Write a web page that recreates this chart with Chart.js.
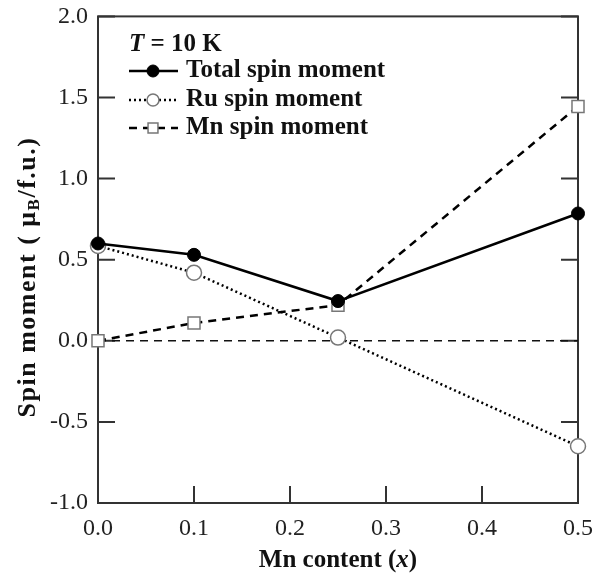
<!DOCTYPE html>
<html>
<head>
<meta charset="utf-8">
<script src="https://cdn.jsdelivr.net/npm/chart.js@4"></script>
<style>
  html, body { margin: 0; padding: 0; background: #fff; }
  #chart { display: block; }
</style>
</head>
<body>
<canvas id="chart" width="604" height="579"></canvas>
<script>
const mnContent = [0, 0.1, 0.25, 0.5];
const totalSpin = [0.60, 0.53, 0.245, 0.785];
const ruSpin = [0.585, 0.42, 0.02, -0.65];
const mnSpin = [0.0, 0.11, 0.22, 1.445];
const zeroLine = [0, 0];
const zeroX = [0, 0.5];
const xTicks = [0, 0.1, 0.2, 0.3, 0.4, 0.5];
const yTicks = [-1.0, -0.5, 0.0, 0.5, 1.0, 1.5, 2.0];
const seriesNames = ['Total spin moment', 'Ru spin moment', 'Mn spin moment'];

const serif = '"Liberation Serif", "DejaVu Serif", serif';
const axisColor = '#333';

function points(xs, ys) {
  return xs.map((x, i) => ({ x, y: ys[i] }));
}

function drawParts(ctx, parts, x, y) {
  let cx = x;
  parts.forEach((p) => {
    ctx.font = p.f;
    ctx.fillText(p.t, cx, y + (p.dy || 0));
    cx += ctx.measureText(p.t).width;
  });
}

function partsWidth(ctx, parts) {
  let w = 0;
  parts.forEach((p) => { ctx.font = p.f; w += ctx.measureText(p.t).width; });
  return w;
}

// frame + inward ticks (left, right, bottom), drawn under the marks
const frameTicks = {
  id: 'frameTicks',
  beforeDatasetsDraw(chart) {
    const { ctx, chartArea: a, scales } = chart;
    const len = 17;
    ctx.save();
    ctx.strokeStyle = axisColor;
    ctx.lineWidth = 2;
    ctx.strokeRect(a.left, a.top, a.right - a.left, a.bottom - a.top);
    ctx.beginPath();
    yTicks.forEach((v) => {
      const y = scales.y.getPixelForValue(v);
      ctx.moveTo(a.left, y);
      ctx.lineTo(a.left + len, y);
      ctx.moveTo(a.right, y);
      ctx.lineTo(a.right - len, y);
    });
    xTicks.forEach((v) => {
      const x = scales.x.getPixelForValue(v);
      ctx.moveTo(x, a.bottom);
      ctx.lineTo(x, a.bottom - len);
    });
    ctx.stroke();
    ctx.restore();
  },
  afterDraw(chart) {
    const { ctx, chartArea: a } = chart;
    ctx.save();
    ctx.fillStyle = '#111';
    ctx.textBaseline = 'middle';

    // y title with subscript B
    ctx.translate(28, 277);
    ctx.rotate(-Math.PI / 2);
    ctx.letterSpacing = '1.5px';
    const yParts = [
      { t: 'Spin moment ( \u03bc', f: 'bold 26px ' + serif },
      { t: 'B', f: 'bold 17px ' + serif, dy: 7 },
      { t: '/f.u.)', f: 'bold 26px ' + serif },
    ];
    drawParts(ctx, yParts, -partsWidth(ctx, yParts) / 2, 0);
    ctx.letterSpacing = '0px';
    ctx.setTransform(1, 0, 0, 1, 0, 0);

    // x title
    ctx.textBaseline = 'alphabetic';
    const xParts = [
      { t: 'Mn content (', f: 'bold 25px ' + serif },
      { t: 'x', f: 'italic bold 25px ' + serif },
      { t: ')', f: 'bold 25px ' + serif },
    ];
    drawParts(ctx, xParts, (a.left + a.right) / 2 - partsWidth(ctx, xParts) / 2, 567);

    // legend
    ctx.textBaseline = 'middle';
    drawParts(ctx, [
      { t: 'T', f: 'italic bold 25px ' + serif },
      { t: ' = 10 K', f: 'bold 25px ' + serif },
    ], 129, 45);

    const rows = [71, 100, 128];
    const legendSize = [6, 6, 7];
    chart.data.datasets.slice(1).forEach((ds, i) => {
      const y = rows[i];
      ctx.save();
      ctx.strokeStyle = ds.borderColor;
      ctx.lineWidth = ds.borderWidth;
      ctx.setLineDash(ds.borderDash || []);
      ctx.beginPath();
      ctx.moveTo(129, y);
      ctx.lineTo(178, y);
      ctx.stroke();
      ctx.setLineDash([]);
      ctx.fillStyle = ds.pointBackgroundColor;
      ctx.strokeStyle = ds.pointBorderColor;
      ctx.lineWidth = ds.pointBorderWidth;
      const r = legendSize[i];
      ctx.beginPath();
      if (ds.pointStyle === 'rect') {
        const s = r * Math.SQRT1_2;
        ctx.rect(153 - s, y - s, 2 * s, 2 * s);
      } else {
        ctx.arc(153, y, r, 0, Math.PI * 2);
      }
      ctx.fill();
      ctx.stroke();
      ctx.restore();
      ctx.font = 'bold 25px ' + serif;
      ctx.fillStyle = '#111';
      ctx.fillText(seriesNames[i], 186, y);
    });
    ctx.restore();
  },
};

new Chart(document.getElementById('chart'), {
  type: 'line',
  data: {
    datasets: [
      {
        label: 'zero',
        data: points(zeroX, zeroLine),
        borderColor: '#111',
        borderWidth: 1.5,
        borderDash: [8, 6],
        pointRadius: 0,
        order: 3,
      },
      {
        label: seriesNames[0],
        data: points(mnContent, totalSpin),
        borderColor: '#000',
        borderWidth: 2.5,
        pointRadius: 6.5,
        pointBackgroundColor: '#000',
        pointBorderColor: '#000',
        pointBorderWidth: 1,
        order: 0,
      },
      {
        label: seriesNames[1],
        data: points(mnContent, ruSpin),
        borderColor: '#000',
        borderWidth: 2.5,
        borderDash: [2, 3],
        pointRadius: 7.5,
        pointBackgroundColor: '#fff',
        pointBorderColor: '#777',
        pointBorderWidth: 1.5,
        order: 2,
      },
      {
        label: seriesNames[2],
        data: points(mnContent, mnSpin),
        borderColor: '#000',
        borderWidth: 2.5,
        borderDash: [8, 6],
        pointStyle: 'rect',
        pointRadius: 8.5,
        pointBackgroundColor: '#fff',
        pointBorderColor: '#777',
        pointBorderWidth: 1.5,
        order: 1,
      },
    ],
  },
  options: {
    responsive: false,
    animation: false,
    clip: false,
    layout: { padding: { top: 16, right: 26, left: 0, bottom: 0 } },
    plugins: { legend: { display: false }, tooltip: { enabled: false } },
    scales: {
      x: {
        type: 'linear',
        min: 0,
        max: 0.5,
        afterBuildTicks: (s) => { s.ticks = xTicks.map((v) => ({ value: v })); },
        afterFit: (s) => { s.height = 76; },
        grid: { display: false },
        border: { display: false },
        ticks: {
          padding: 3,
          color: '#222',
          font: { family: serif, size: 24 },
          maxRotation: 0,
          callback: (v) => v.toFixed(1),
        },
      },
      y: {
        min: -1,
        max: 2,
        afterBuildTicks: (s) => { s.ticks = yTicks.map((v) => ({ value: v })); },
        afterFit: (s) => { s.width = 98; },
        grid: { display: false },
        border: { display: false },
        ticks: {
          padding: 2,
          color: '#222',
          font: { family: serif, size: 24 },
          callback: (v) => v.toFixed(1),
        },
      },
    },
  },
  plugins: [frameTicks],
});
</script>
</body>
</html>
